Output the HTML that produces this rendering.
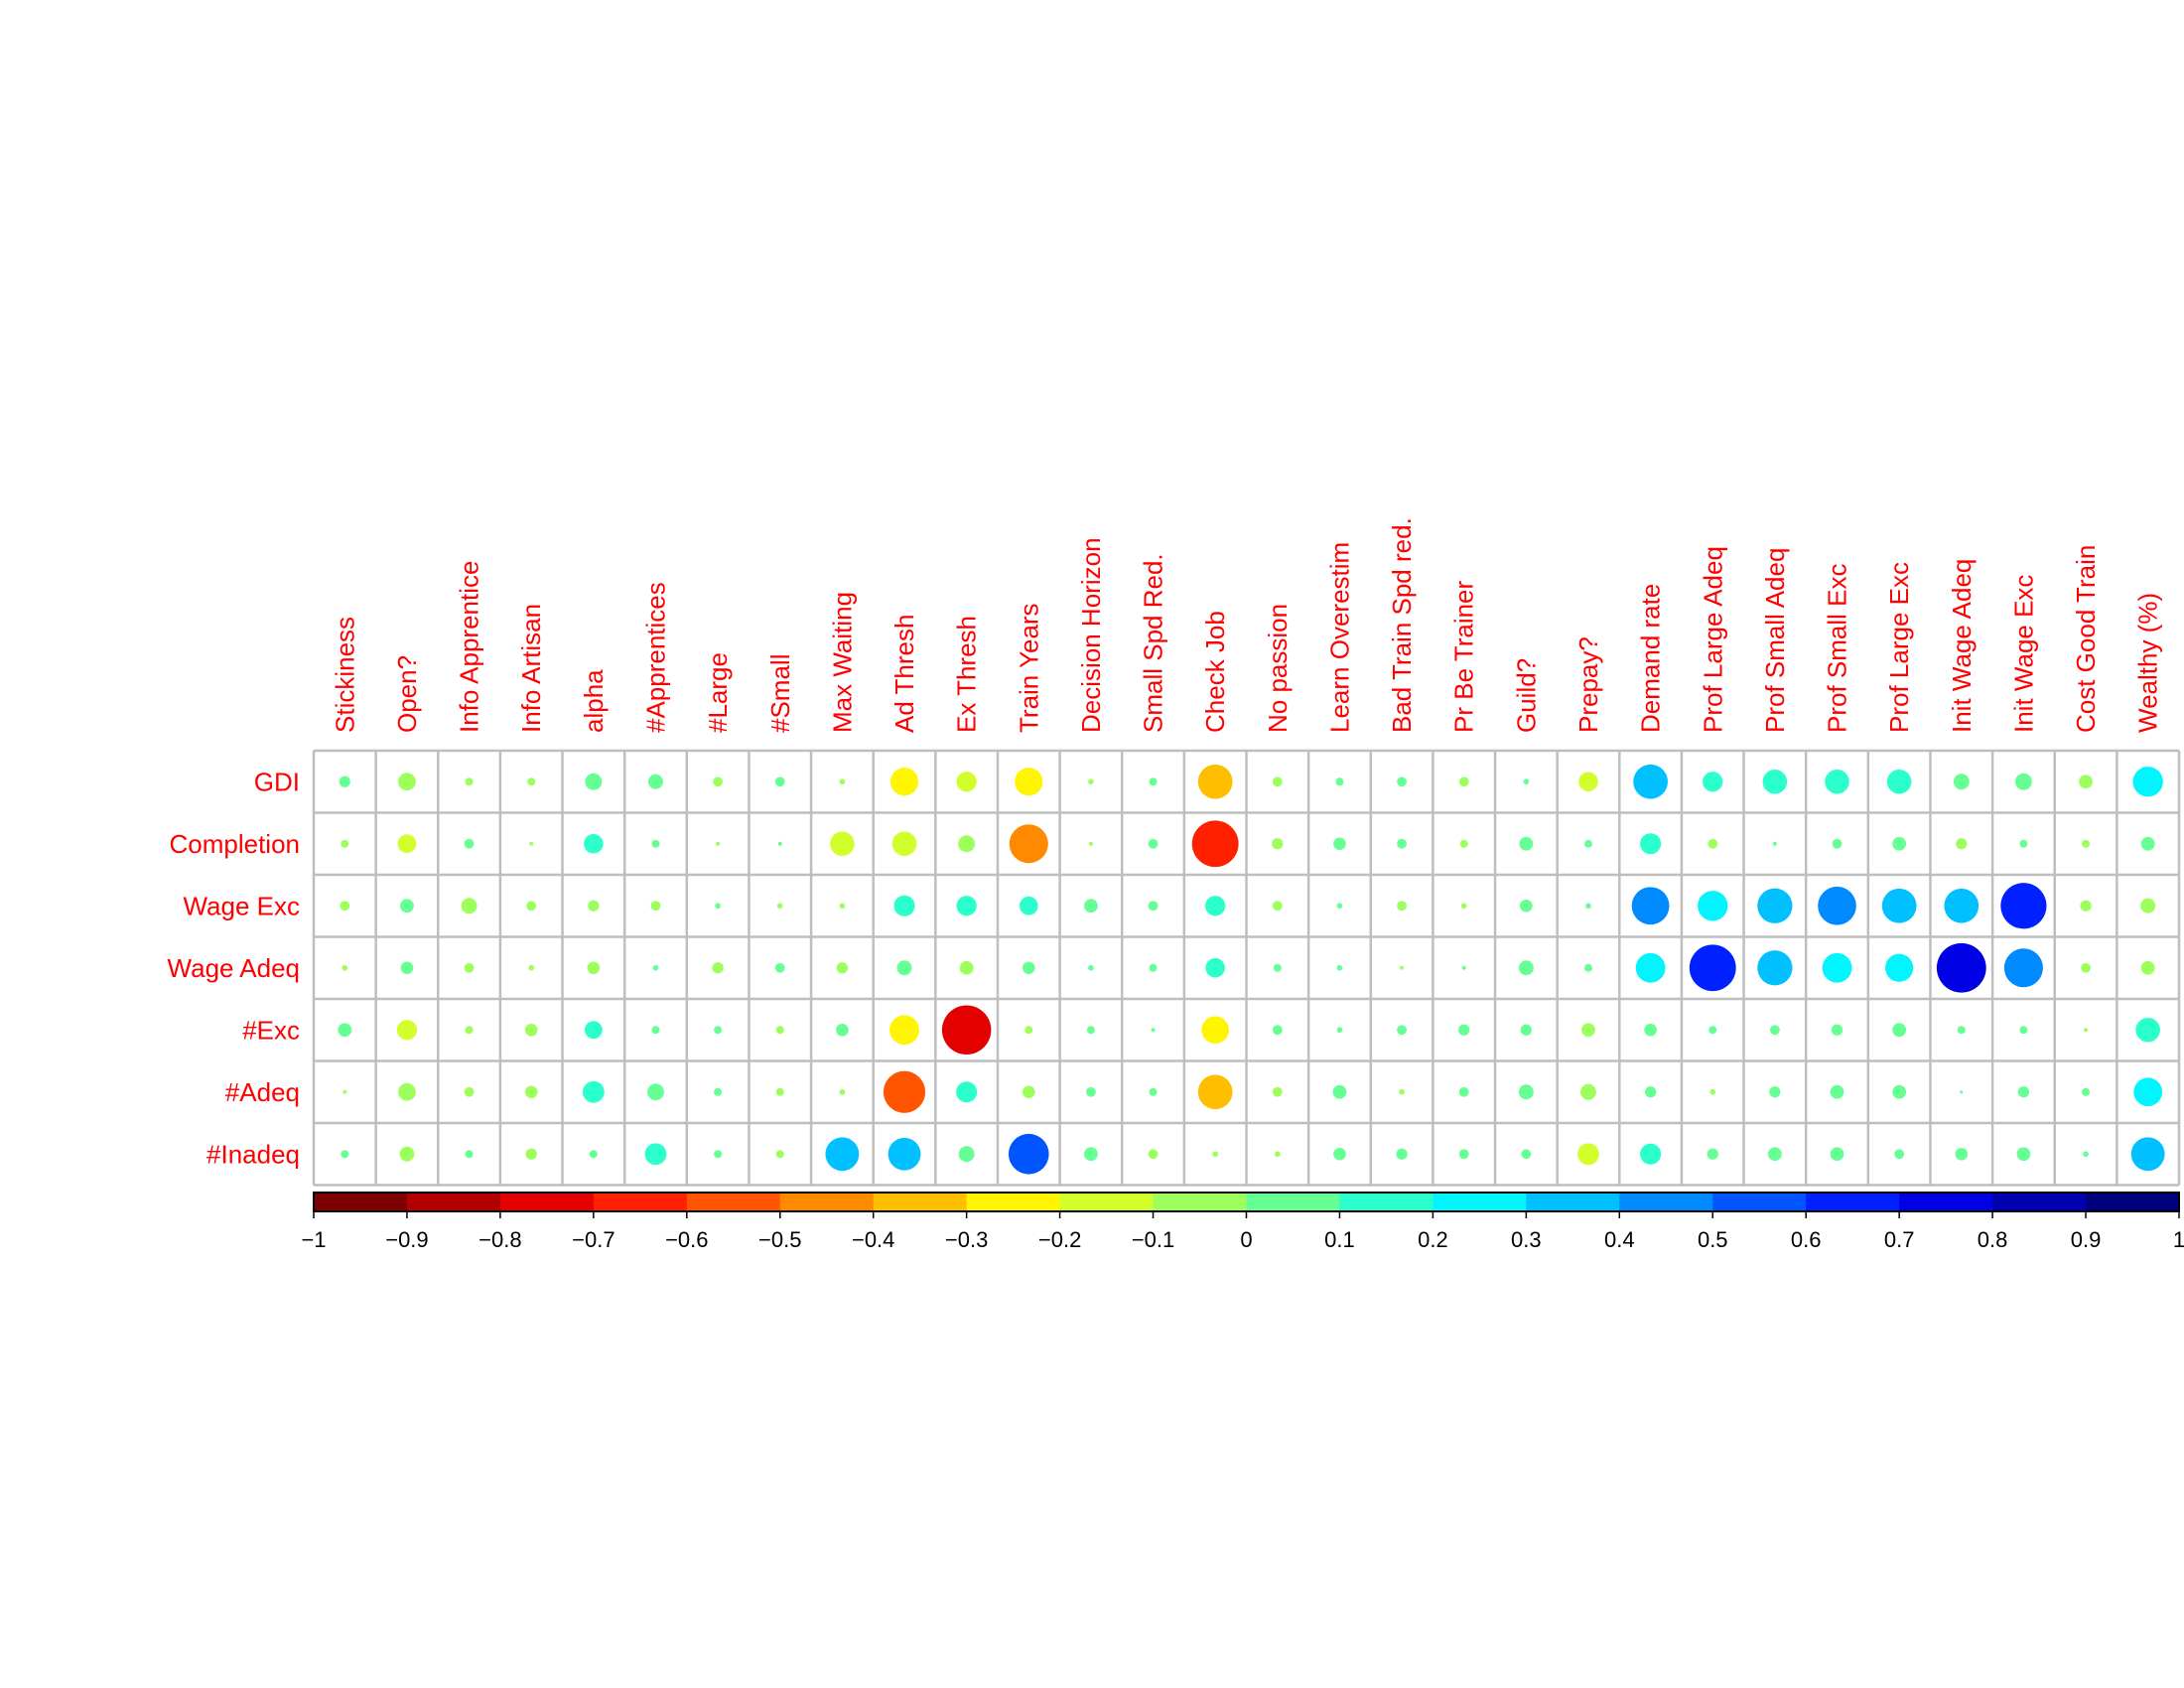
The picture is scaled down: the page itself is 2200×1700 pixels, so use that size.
<!DOCTYPE html>
<html><head><meta charset="utf-8"><style>html,body{margin:0;padding:0;background:#fff;}svg{display:block;}</style></head>
<body>
<svg id="chart" width="2200" height="1700" xmlns="http://www.w3.org/2000/svg" font-family="Liberation Sans, sans-serif"></svg>
<script>
const columns=["Stickiness","Open?","Info Apprentice","Info Artisan","alpha","#Apprentices","#Large","#Small","Max Waiting","Ad Thresh","Ex Thresh","Train Years","Decision Horizon","Small Spd Red.","Check Job","No passion","Learn Overestim","Bad Train Spd red.","Pr Be Trainer","Guild?","Prepay?","Demand rate","Prof Large Adeq","Prof Small Adeq","Prof Small Exc","Prof Large Exc","Init Wage Adeq","Init Wage Exc","Cost Good Train","Wealthy (%)"];
const rows=["GDI","Completion","Wage Exc","Wage Adeq","#Exc","#Adeq","#Inadeq"];
const gdiValues=[0.04,-0.1,-0.02,-0.02,0.09,0.07,-0.03,0.03,-0.01,-0.25,-0.13,-0.25,-0.01,0.02,-0.38,-0.03,0.02,0.03,-0.03,0.01,-0.12,0.38,0.13,0.19,0.19,0.19,0.08,0.09,-0.06,0.29];
const completionValues=[-0.02,-0.11,0.03,-0.005,0.12,0.02,-0.005,0.005,-0.19,-0.19,-0.09,-0.48,-0.005,0.03,-0.69,-0.04,0.05,0.03,-0.02,0.06,0.02,0.14,-0.03,0.005,0.03,0.06,-0.04,0.02,-0.02,0.06];
const wageExcValues=[-0.03,0.06,-0.08,-0.03,-0.04,-0.03,0.01,-0.01,-0.01,0.14,0.13,0.11,0.06,0.03,0.13,-0.03,0.01,-0.03,-0.01,0.05,0.01,0.45,0.29,0.39,0.47,0.38,0.38,0.67,-0.04,-0.07];
const wageAdeqValues=[-0.01,0.05,-0.03,-0.01,-0.05,0.01,-0.04,0.03,-0.04,0.07,-0.06,0.05,0.01,0.02,0.12,0.02,0.01,-0.005,0.005,0.07,0.02,0.28,0.69,0.39,0.28,0.25,0.78,0.48,-0.03,-0.06];
const excValues=[0.06,-0.13,-0.02,-0.05,0.1,0.02,0.02,-0.02,0.05,-0.28,-0.77,-0.02,0.02,0.005,-0.24,0.03,0.01,0.03,0.04,0.04,-0.06,0.05,0.02,0.03,0.04,0.06,0.02,0.02,-0.005,0.19];
const adeqValues=[-0.005,-0.1,-0.03,-0.05,0.15,0.09,0.02,-0.02,-0.01,-0.56,0.14,-0.05,0.03,0.02,-0.38,-0.03,0.06,-0.01,0.03,0.07,-0.08,0.04,-0.01,0.04,0.06,0.06,0.003,0.04,0.02,0.26];
const inadeqValues=[0.02,-0.07,0.02,-0.04,0.02,0.15,0.02,-0.02,0.36,0.34,0.08,0.52,0.06,-0.03,-0.01,-0.01,0.05,0.04,0.03,0.03,-0.15,0.14,0.04,0.06,0.06,0.03,0.05,0.06,0.01,0.36];
const tickLabels=["\u22121","\u22120.9","\u22120.8","\u22120.7","\u22120.6","\u22120.5","\u22120.4","\u22120.3","\u22120.2","\u22120.1","0","0.1","0.2","0.3","0.4","0.5","0.6","0.7","0.8","0.9","1"];
const tickValues=[-1,-0.9,-0.8,-0.7,-0.6,-0.5,-0.4,-0.3,-0.2,-0.1,0,0.1,0.2,0.3,0.4,0.5,0.6,0.7,0.8,0.9,1];
const palette=["#7F0000","#B20000","#E50000","#FF2000","#FF5500","#FF8A00","#FFBF00","#FFF500","#D2FF2B","#9CFF5C","#66FF93","#2BFFCC","#00F5FF","#00C0FF","#008AFF","#0055FF","#0020FF","#0000E5","#0000B0","#00007F"];
const matrix=[gdiValues,completionValues,wageExcValues,wageAdeqValues,excValues,adeqValues,inadeqValues];

const NS="http://www.w3.org/2000/svg";
const svg=document.getElementById('chart');
const X0=316,X1=2195,Y0=756,CH=62.5;
const CW=(X1-X0)/columns.length;
const Y1=Y0+CH*rows.length;
const xPos=i=>X0+CW*(i+0.5);
const yPos=j=>Y0+CH*(j+0.5);
const cbX=v=>X0+(v+1)/2*(X1-X0);
const colorOf=v=>palette[Math.min(19,Math.max(0,Math.floor((v+1)*10)))];
const radius=v=>Math.sqrt(Math.abs(v))*0.45*CW;
function mk(tag,attrs){const e=document.createElementNS(NS,tag);for(const k in attrs)e.setAttribute(k,attrs[k]);svg.appendChild(e);return e;}

// circles
matrix.forEach((vals,j)=>{vals.forEach((v,i)=>{
  const c=mk('circle',{cx:xPos(i),cy:yPos(j),r:radius(v),fill:colorOf(v)});
  
  
});});
// grid
for(let i=0;i<=columns.length;i++){
  const l=mk('line',{x1:X0+CW*i,x2:X0+CW*i,y1:Y0,y2:Y1,stroke:'#BEBEBE','stroke-width':2.5});
  
  
}
for(let j=0;j<=rows.length;j++){
  const l=mk('line',{x1:X0,x2:X1,y1:Y0+CH*j,y2:Y0+CH*j,stroke:'#BEBEBE','stroke-width':2.5});
  
  
}
// column labels
columns.forEach((c,i)=>{
  const t=mk('text',{x:0,y:0,transform:`translate(${xPos(i)+9},738) rotate(-90)`,fill:'#FF0000','font-size':26});
  t.textContent=c;
  
  
});
// row labels
rows.forEach((r,j)=>{
  const t=mk('text',{x:302,y:yPos(j)+9,fill:'#FF0000','font-size':26,'text-anchor':'end'});
  t.textContent=r;
  
  
});
// colorbar
palette.forEach((col,k)=>{
  const a=cbX(-1+k*0.1),b=cbX(-1+(k+1)*0.1);
  const r=mk('rect',{x:a,y:1201,width:b-a+0.5,height:19,fill:col});
  
  
});
const bd=mk('rect',{x:X0,y:1201,width:X1-X0,height:19,fill:'none',stroke:'#000','stroke-width':2});


tickValues.forEach((v,k)=>{
  const l=mk('line',{x1:cbX(v),x2:cbX(v),y1:1220,y2:1227,stroke:'#000','stroke-width':1.5});
  
  
  const t=mk('text',{x:cbX(v),y:1256,fill:'#000','font-size':22,'text-anchor':'middle'});
  t.textContent=tickLabels[k];
  
  
});
</script>
</body></html>
